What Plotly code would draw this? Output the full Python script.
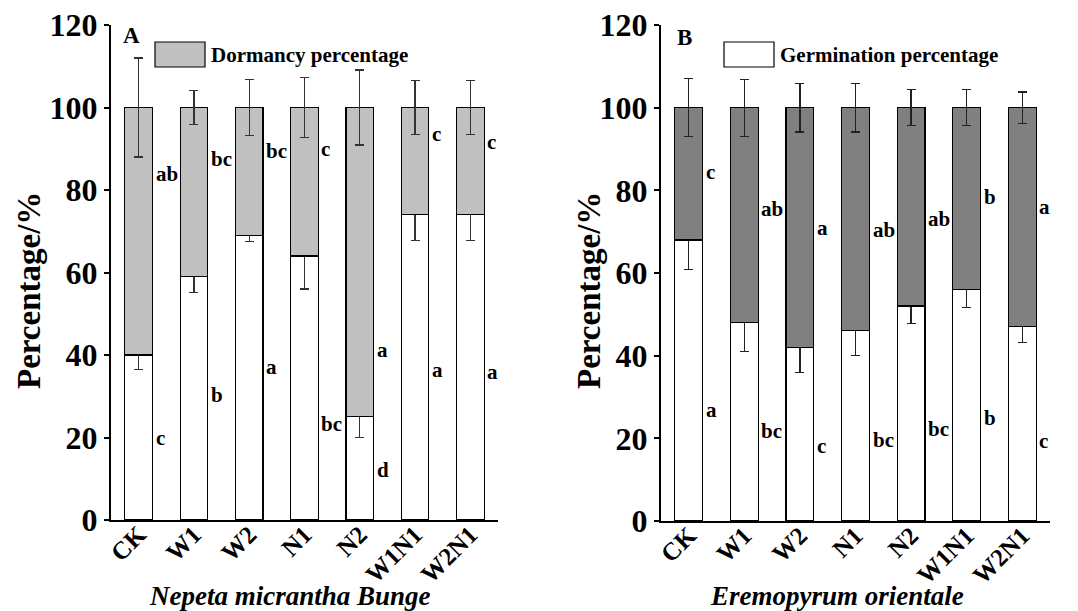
import plotly.graph_objects as go

categories = ["CK", "W1", "W2", "N1", "N2", "W1N1", "W2N1"]

# Panel A: Nepeta micrantha Bunge
a_germ = [40, 59, 69, 64, 25, 74, 74]
a_germ_err = [3.6, 3.8, 1.4, 8.0, 5.0, 6.2, 6.2]
a_dorm = [60, 41, 31, 36, 75, 26, 26]
a_dorm_err = [12.0, 4.2, 6.7, 7.2, 9.1, 6.6, 6.6]
a_dorm_letters = ["ab", "bc", "bc", "c", "a", "c", "c"]
a_dorm_letter_y = [84, 87.5, 89.4, 90, 41.3, 93.6, 91.6]
a_germ_letters = ["c", "b", "a", "bc", "d", "a", "a"]
a_germ_letter_y = [20, 30.2, 37, 23.3, 12.2, 36.3, 35.8]

# Panel B: Eremopyrum orientale
b_germ = [68, 48, 42, 46, 52, 56, 47]
b_germ_err = [7.2, 7.0, 6.0, 6.0, 4.3, 4.3, 3.8]
b_dorm = [32, 52, 58, 54, 48, 44, 53]
b_dorm_err = [7.0, 6.9, 5.9, 5.9, 4.3, 4.3, 3.8]
b_dorm_letters = ["c", "ab", "a", "ab", "ab", "b", "a"]
b_dorm_letter_y = [84.5, 75.6, 70.8, 70.5, 73, 78.4, 75.9]
b_germ_letters = ["a", "bc", "c", "bc", "bc", "b", "c"]
b_germ_letter_y = [26.8, 21.8, 18.1, 19.6, 22.2, 24.8, 19.4]

y_ticks = [0, 20, 40, 60, 80, 100, 120]

FONT = "Liberation Serif"
xpos = list(range(len(categories)))

fig = go.Figure()

def add_bars(xa, ya, germ, germ_err, dorm, dorm_err, dorm_color, err_color):
    fig.add_trace(go.Bar(
        x=xpos, y=germ, xaxis=xa, yaxis=ya, width=0.5,
        marker=dict(color="white", line=dict(color="black", width=1.2)),
        error_y=dict(type="data", array=germ_err, color=err_color, thickness=1.2, width=4.5),
        showlegend=False, hoverinfo="skip"))
    fig.add_trace(go.Bar(
        x=xpos, y=dorm, xaxis=xa, yaxis=ya, width=0.5,
        marker=dict(color=dorm_color, line=dict(color="black", width=1.2)),
        error_y=dict(type="data", array=dorm_err, color=err_color, thickness=1.2, width=4.5),
        showlegend=False, hoverinfo="skip"))

add_bars("x", "y", a_germ, a_germ_err, a_dorm, a_dorm_err, "#c0c0c0", "#333333")
add_bars("x2", "y2", b_germ, b_germ_err, b_dorm, b_dorm_err, "#808080", "#222222")

annotations = []
def add_letters(xr, yr, letters, ys):
    for i, (t, yy) in enumerate(zip(letters, ys)):
        annotations.append(dict(x=i + 0.27, y=yy, xref=xr, yref=yr, text=t, showarrow=False,
                                xanchor="left", yanchor="middle",
                                font=dict(family=FONT, size=21, color="black", weight="bold")))

add_letters("x", "y", a_dorm_letters, a_dorm_letter_y)
add_letters("x", "y", a_germ_letters, a_germ_letter_y)
add_letters("x2", "y2", b_dorm_letters, b_dorm_letter_y)
add_letters("x2", "y2", b_germ_letters, b_germ_letter_y)

W, H = 1078, 611
def px(x):
    return x / W
def py(y):
    return 1 - y / H

# panel labels
annotations.append(dict(x=px(121), y=py(36), xref="paper", yref="paper", text="A", showarrow=False,
                        xanchor="left", yanchor="middle", font=dict(family=FONT, size=23, color="black", weight="bold")))
annotations.append(dict(x=px(675), y=py(37), xref="paper", yref="paper", text="B", showarrow=False,
                        xanchor="left", yanchor="middle", font=dict(family=FONT, size=23, color="black", weight="bold")))

# legends
annotations.append(dict(x=px(209), y=py(55), xref="paper", yref="paper", text="Dormancy percentage", showarrow=False,
                        xanchor="left", yanchor="middle", font=dict(family=FONT, size=21, color="black", weight="bold")))
annotations.append(dict(x=px(778), y=py(55), xref="paper", yref="paper", text="Germination percentage", showarrow=False,
                        xanchor="left", yanchor="middle", font=dict(family=FONT, size=21, color="black", weight="bold")))
shapes = [
    dict(type="rect", xref="paper", yref="paper", x0=px(155), x1=px(205), y0=py(67), y1=py(42),
         fillcolor="#c0c0c0", line=dict(color="black", width=1.2)),
    dict(type="rect", xref="paper", yref="paper", x0=px(724), x1=px(774), y0=py(67), y1=py(42),
         fillcolor="white", line=dict(color="black", width=1.2)),
]

# axis titles
for xc in (29, 589):
    annotations.append(dict(x=px(xc), y=py(291), xref="paper", yref="paper", text="Percentage/%", showarrow=False,
                            textangle=-90, xanchor="center", yanchor="middle",
                            font=dict(family=FONT, size=33, color="black", weight="bold")))
annotations.append(dict(x=px(290), y=py(596), xref="paper", yref="paper", text="Nepeta micrantha Bunge",
                        showarrow=False, xanchor="center", yanchor="middle",
                        font=dict(family=FONT, size=27, color="black", weight="bold", style="italic")))
annotations.append(dict(x=px(837), y=py(596), xref="paper", yref="paper", text="Eremopyrum orientale",
                        showarrow=False, xanchor="center", yanchor="middle",
                        font=dict(family=FONT, size=27, color="black", weight="bold", style="italic")))

xaxis_common = dict(range=[-0.5, 6.5], tickmode="array", tickvals=xpos, ticktext=categories,
                    tickangle=-45, showline=True, linecolor="black", linewidth=2, ticks="",
                    showgrid=False, zeroline=False, automargin=False, ticklabelstandoff=-12,
                    tickfont=dict(family=FONT, size=25, color="black", weight="bold"))
yaxis_common = dict(range=[0, 120], tickmode="array", tickvals=y_ticks, showline=True, linecolor="black",
                    linewidth=2, ticks="outside", ticklen=5, tickwidth=1.5, tickcolor="black",
                    showgrid=False, zeroline=False, automargin=False,
                    tickfont=dict(family=FONT, size=32, color="black", weight="bold"))

fig.update_layout(
    template="none",
    width=W, height=H, margin=dict(l=0, r=0, t=0, b=0, pad=0),
    paper_bgcolor="white", plot_bgcolor="white", barmode="stack",
    xaxis=dict(domain=[px(111), px(498)], anchor="y", **xaxis_common),
    yaxis=dict(domain=[py(520), py(25)], anchor="x", **yaxis_common),
    xaxis2=dict(domain=[px(661), px(1050)], anchor="y2", **xaxis_common),
    yaxis2=dict(domain=[py(521), py(25)], anchor="x2", **yaxis_common),
    annotations=annotations, shapes=shapes, showlegend=False,
)

fig.write_html("out.html", config={"displayModeBar": False},
               post_script="document.body.style.margin='0px';document.body.style.overflow='hidden';")
